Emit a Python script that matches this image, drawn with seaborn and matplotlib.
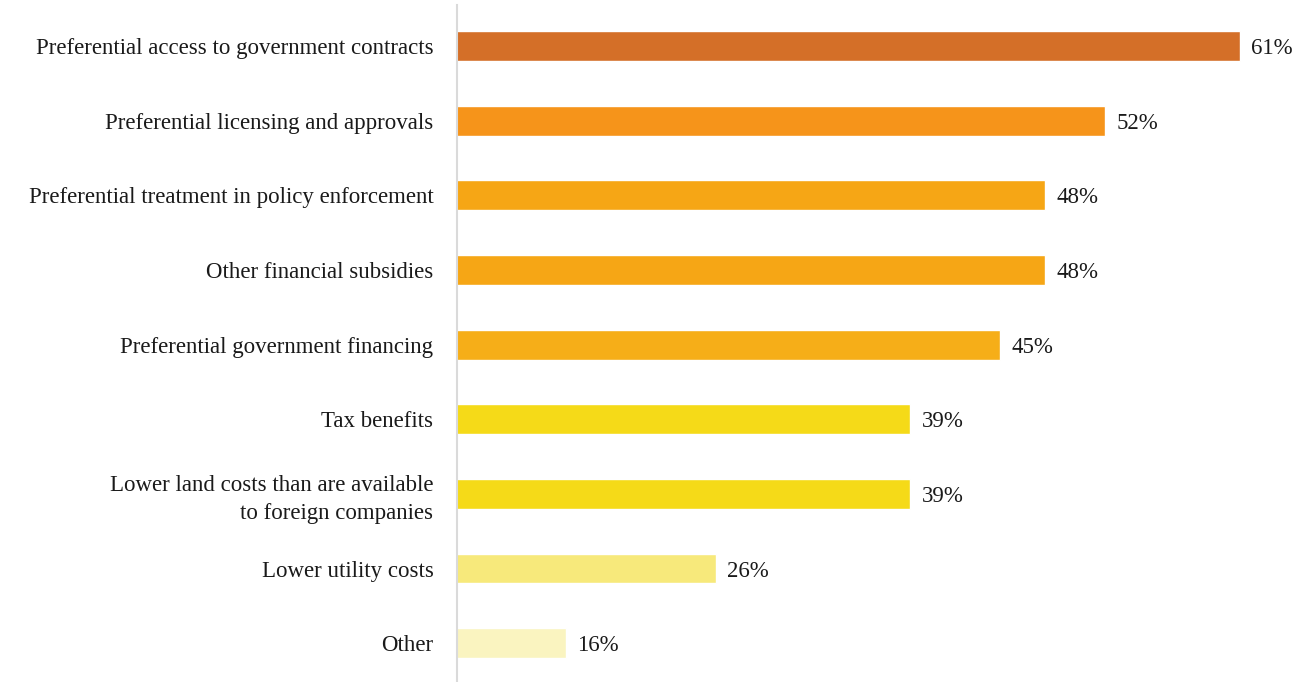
import matplotlib
matplotlib.use("Agg")
import matplotlib.pyplot as plt
import seaborn as sns
import pandas as pd

categories = [
    "Preferential access to government contracts",
    "Preferential licensing and approvals",
    "Preferential treatment in policy enforcement",
    "Other financial subsidies",
    "Preferential government financing",
    "Tax benefits",
    "Lower land costs than are available\nto foreign companies",
    "Lower utility costs",
    "Other",
]
values = [61, 52, 48, 48, 45, 39, 39, 26, 16]
colors = ["#D46F28", "#F6941A", "#F6A615", "#F6A615", "#F6AE18",
          "#F5DA18", "#F5DA18", "#F7E97B", "#FAF4C0"]

sns.set_theme(style="white")
plt.rcParams["font.family"] = ["Liberation Serif", "DejaVu Serif"]

df = pd.DataFrame({"category": categories, "value": values})

fig = plt.figure(figsize=(12.95, 6.82), dpi=100)
ax = fig.add_axes([457 / 1295, 0, 1 - 457 / 1295, 677 / 682])

sns.barplot(data=df, y="category", x="value", hue="category",
            palette=colors, orient="h", width=0.4, legend=False,
            saturation=1, ax=ax)

for cont in ax.containers:
    labels = ax.bar_label(cont, fmt="%d%%", padding=8, fontsize=16.5,
                          color="#1A1A1A")
    for t in labels:
        t.set_va("center_baseline")

ax.set_xlim(8.7, 64.7)
ax.set_ylim(8.52, -0.55)
ax.set_xlabel("")
ax.set_ylabel("")
ax.set_xticks([])
ax.tick_params(axis="y", length=0, pad=17, labelsize=16.5, labelcolor="#1A1A1A")
for t in ax.get_yticklabels():
    t.set_linespacing(1.4)

for side in ["top", "right", "bottom"]:
    ax.spines[side].set_visible(False)
ax.spines["left"].set_color("#DADADA")
ax.spines["left"].set_linewidth(1.5)

fig.savefig("out.png", dpi=100)
